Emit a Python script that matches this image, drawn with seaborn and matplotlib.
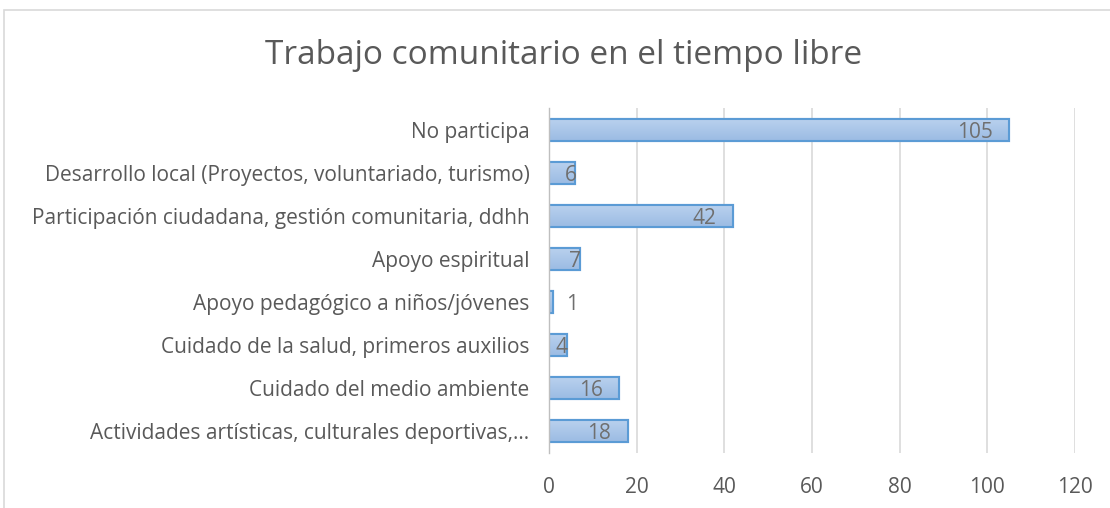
import matplotlib
matplotlib.use("Agg")
import matplotlib.pyplot as plt
import seaborn as sns
import pandas as pd
import numpy as np
from matplotlib.patches import Rectangle
from matplotlib.colors import LinearSegmentedColormap

categories = [
    "No participa",
    "Desarrollo local (Proyectos, voluntariado, turismo)",
    "Participación ciudadana, gestión comunitaria, ddhh",
    "Apoyo espiritual",
    "Apoyo pedagógico a niños/jóvenes",
    "Cuidado de la salud, primeros auxilios",
    "Cuidado del medio ambiente",
    "Actividades artísticas, culturales deportivas,…",
]
values = [105, 6, 42, 7, 1, 4, 16, 18]
x_ticks = [0, 20, 40, 60, 80, 100, 120]
title = "Trabajo comunitario en el tiempo libre"

sns.set_theme(style="white")
plt.rcParams["font.family"] = ["Open Sans", "DejaVu Sans"]

df = pd.DataFrame({"cat": categories, "val": values})
TXT = "#595959"
LBL = "#6F6F6F"
FS = 15

fig = plt.figure(figsize=(11.1, 5.08), dpi=100)
ax = fig.add_axes([549/1110, 1-453/508, (1075-549)/1110, (453-108)/508])

sns.barplot(data=df, x="val", y="cat", orient="h", ax=ax, color="#A9C5E9",
            width=0.51, edgecolor="#5B9BD5", linewidth=1.5, saturation=1)

ax.set_xlim(0, 120)
ax.set_ylim(7.5, -0.5)

# gradient fill inside each bar (lighter at top, darker at bottom)
cmap = LinearSegmentedColormap.from_list("g", ["#B9D1EE", "#9BBBE3"])
grad = np.linspace(0, 1, 64).reshape(-1, 1)
for p in list(ax.patches):
    x0, y0 = p.get_x(), p.get_y()
    w, h = p.get_width(), p.get_height()
    im = ax.imshow(grad, cmap=cmap, aspect="auto", extent=(x0, x0 + w, y0, y0 + h),
                   origin="lower", zorder=p.get_zorder() + 0.1, interpolation="bicubic")
    im.set_clip_path(p)
    edge = Rectangle((x0, y0), w, h, fill=False, edgecolor="#5B9BD5", linewidth=1.5,
                     zorder=p.get_zorder() + 0.2)
    ax.add_patch(edge)

ax.set_xlim(0, 120)
ax.set_ylim(7.5, -0.5)
ax.set_xticks(x_ticks)
ax.set_xticklabels([str(t) for t in x_ticks])
ax.set_xlabel("")
ax.set_ylabel("")
ax.grid(axis="x", color="#D9D9D9", linewidth=1.2)
ax.set_axisbelow(True)
for s in ["top", "right", "bottom"]:
    ax.spines[s].set_visible(False)
ax.spines["left"].set_color("#BFBFBF")
ax.spines["left"].set_linewidth(1)
ax.tick_params(axis="x", length=0, pad=17, labelsize=FS, labelcolor=TXT)
ax.tick_params(axis="y", length=0, pad=14, labelsize=FS, labelcolor=TXT)

for i, v in enumerate(values):
    if v >= 10:
        ax.annotate(str(v), (v, i), xytext=(-12, 0), textcoords="offset points",
                    ha="right", va="center_baseline", fontsize=FS, color=LBL, zorder=10)
    elif v >= 4:
        ax.annotate(str(v), (v, i), xytext=(1, 0), textcoords="offset points",
                    ha="right", va="center_baseline", fontsize=FS, color=LBL, zorder=10)
    else:
        ax.annotate(str(v), (v, i), xytext=(9, 0), textcoords="offset points",
                    ha="left", va="center_baseline", fontsize=FS, color=LBL, zorder=10)

fig.text(564/1110, 1-55/508, title, ha="center", va="center", fontsize=24, color=TXT)

fig.patches.append(Rectangle((4/1110, -0.1), 1.2, 1-10/508+0.1, transform=fig.transFigure,
                             fill=False, edgecolor="#D9D9D9", linewidth=1.2))

fig.savefig("out.png", dpi=100, facecolor="white")
